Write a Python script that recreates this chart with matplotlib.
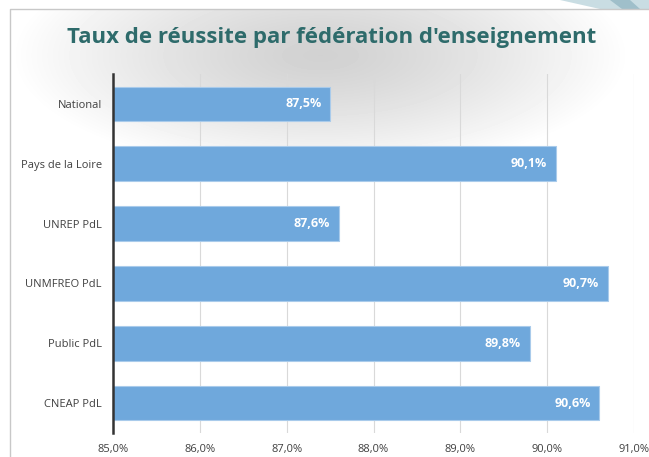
import matplotlib.pyplot as plt
import numpy as np

# valeurs
categories = ["National", "Pays de la Loire", "UNREP PdL", "UNMFREO PdL", "Public PdL", "CNEAP PdL"]
taux = [87.5, 90.1, 87.6, 90.7, 89.8, 90.6]
ticks = [85, 86, 87, 88, 89, 90, 91]

titre = "Taux de réussite par fédération d'enseignement"

fig = plt.figure(figsize=(6.49, 4.57), dpi=100)

# fond : léger dégradé gris autour du titre
bg = fig.add_axes([0, 0, 1, 1], zorder=-10)
yy, xx = np.mgrid[0:457, 0:649]
d = np.sqrt(((xx - 320) / 310.0) ** 2 + ((yy - 55) / 120.0) ** 2)
shade = np.clip(0.82 + 0.18 * d ** 1.3, 0.82, 1.0)
shade[:9, :] = 1.0
shade[:, :10] = 1.0
bg.imshow(shade, cmap="gray", vmin=0, vmax=1, extent=[0, 649, 457, 0], aspect="auto")
# décor bleuté en haut à droite
bg.fill([560, 649, 649, 600], [0, 0, 9, 9], color="#c9dde3", lw=0)
bg.fill([610, 630, 640, 622], [0, 0, 9, 9], color="#9fbfca", lw=0)
bg.plot([10, 10, 649], [457, 9, 9], color="#c8c8c8", lw=1)
bg.set_xlim(0, 649)
bg.set_ylim(457, 0)
bg.axis("off")

ax = fig.add_axes([113 / 649, 1 - 433 / 457, (634 - 113) / 649, (433 - 74) / 457])
ax.patch.set_alpha(0)

y = np.arange(len(categories))
bars = ax.barh(y, [v - ticks[0] for v in taux], left=ticks[0], height=0.58,
               color="#6fa8dc", edgecolor="#a9cbeb", linewidth=0.8, zorder=3)

for b, v in zip(bars, taux):
    ax.text(b.get_x() + b.get_width() - 0.1, b.get_y() + b.get_height() / 2,
            ("%.1f%%" % v).replace(".", ","), ha="right", va="center",
            color="white", fontsize=9, fontweight="bold", family="Open Sans", zorder=4)

ax.set_xlim(ticks[0], ticks[-1])
ax.set_ylim(len(categories) - 0.5, -0.5)
ax.set_xticks(ticks)
ax.set_xticklabels([("%.1f%%" % t).replace(".", ",") for t in ticks],
                   fontsize=8, color="#404040", family="Open Sans")
ax.set_yticks(y)
ax.set_yticklabels(categories, fontsize=8, color="#404040", family="Open Sans")
ax.tick_params(length=0, pad=8)
ax.grid(axis="x", color="#d9d9d9", lw=0.8, zorder=0)
for s in ["top", "right", "bottom"]:
    ax.spines[s].set_visible(False)
ax.spines["left"].set_color("#333333")
ax.spines["left"].set_linewidth(1.8)
ax.spines["left"].set_zorder(5)

fig.text(332 / 649, 1 - 38 / 457, titre, ha="center", va="center",
         fontsize=16, fontweight="bold", color="#2e6b6b", family="Open Sans")

fig.savefig("out.png", dpi=100)
